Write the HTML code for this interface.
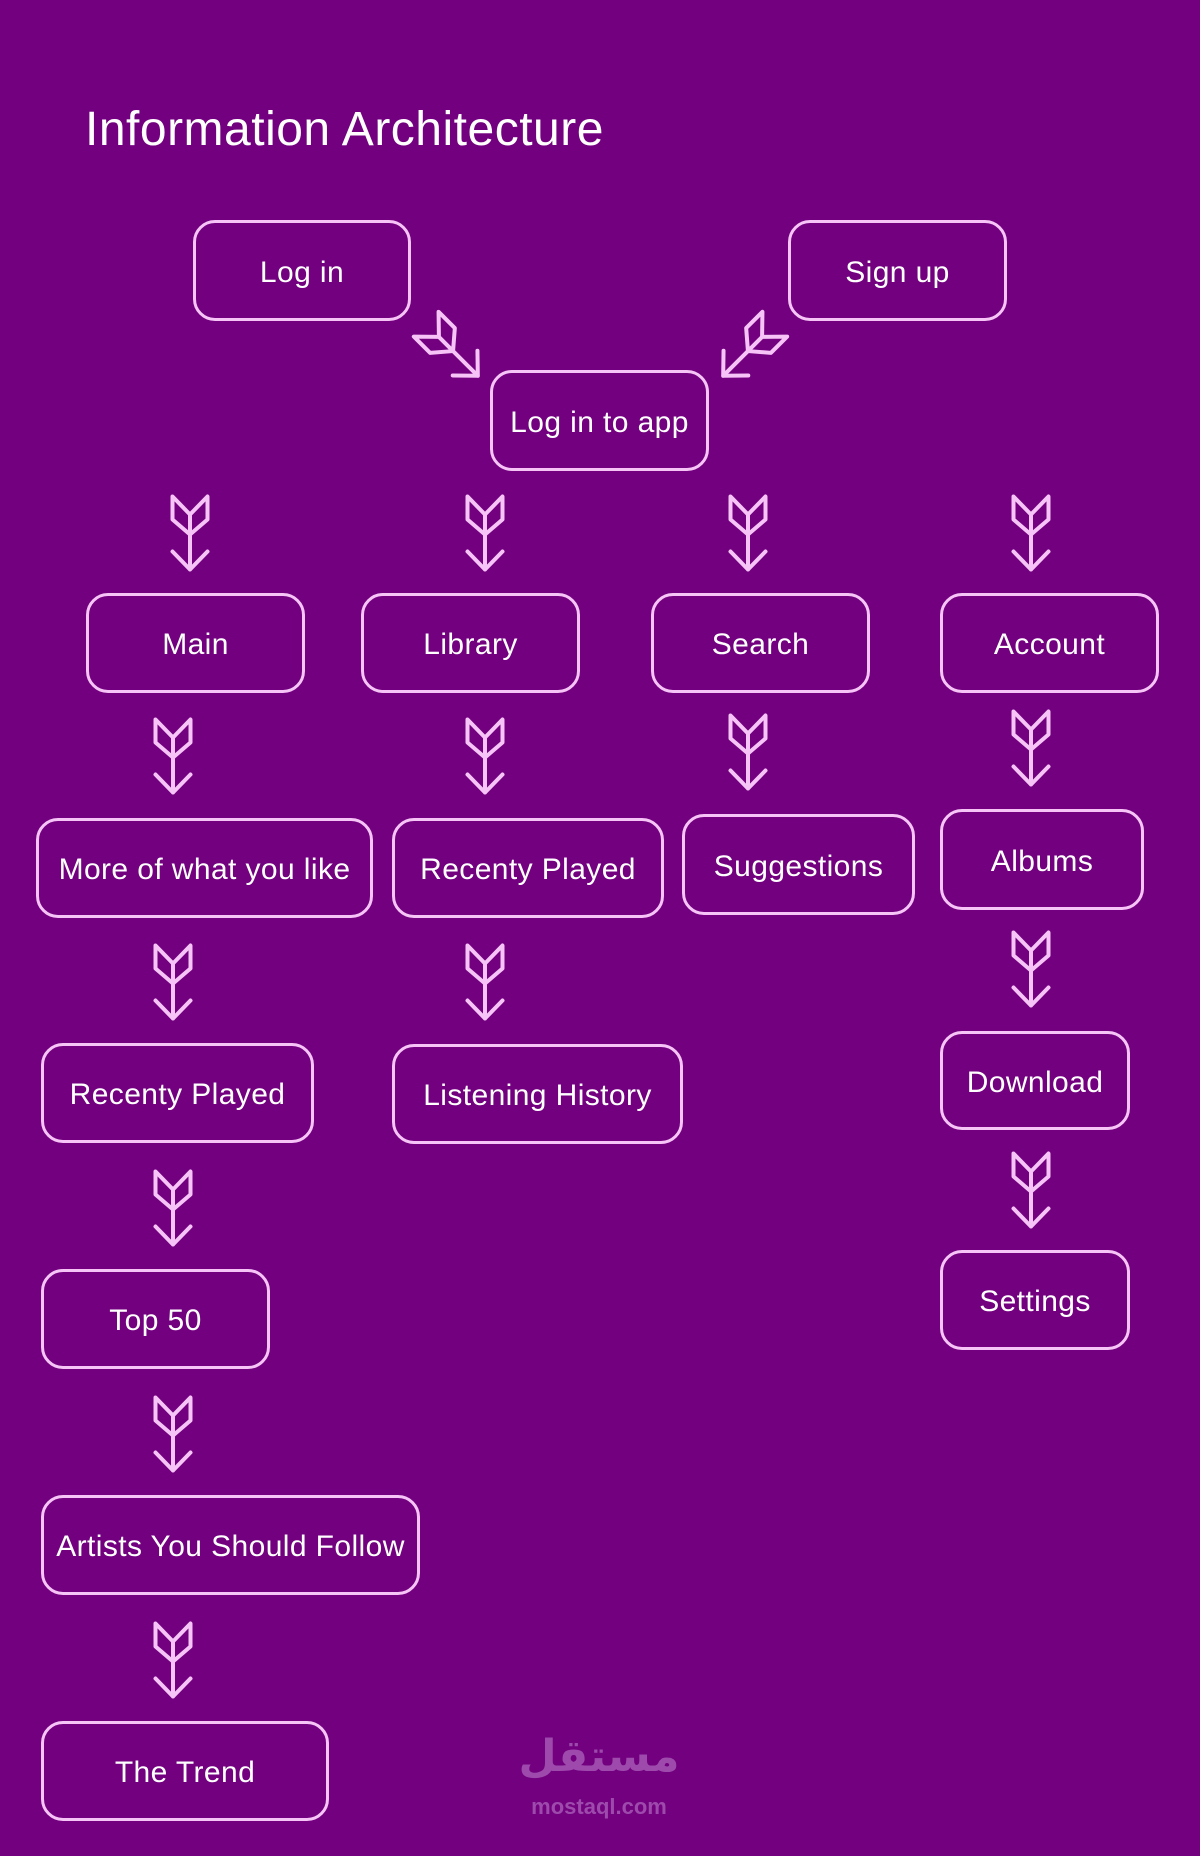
<!DOCTYPE html>
<html><head><meta charset="utf-8"><style>
html,body{margin:0;padding:0}
body{width:1200px;height:1856px;background:#72007f;position:relative;overflow:hidden;font-family:"Liberation Sans",sans-serif}
.t{position:absolute;left:85px;top:102px;color:#fff;font-size:48px;line-height:56px;letter-spacing:0.5px}
.b{position:absolute;box-sizing:border-box;border:3.5px solid #f6c4f6;border-radius:22px;color:#fff;font-size:30px;letter-spacing:0.4px;display:flex;align-items:center;justify-content:center;white-space:nowrap;padding-top:4px}
svg{position:absolute;left:0;top:0}
.wm{position:absolute;left:499px;width:200px;text-align:center;color:#9e4aad;font-weight:bold}
</style></head><body>
<div class="t">Information Architecture</div>
<div class="b" style="left:193px;top:220px;width:218px;height:101px">Log in</div>
<div class="b" style="left:788px;top:220px;width:219px;height:101px">Sign up</div>
<div class="b" style="left:490px;top:370px;width:219px;height:101px">Log in to app</div>
<div class="b" style="left:86px;top:593px;width:219px;height:100px">Main</div>
<div class="b" style="left:361px;top:593px;width:219px;height:100px">Library</div>
<div class="b" style="left:651px;top:593px;width:219px;height:100px">Search</div>
<div class="b" style="left:940px;top:593px;width:219px;height:100px">Account</div>
<div class="b" style="left:36px;top:818px;width:337px;height:100px">More of what you like</div>
<div class="b" style="left:392px;top:818px;width:272px;height:100px">Recenty Played</div>
<div class="b" style="left:682px;top:814px;width:233px;height:101px">Suggestions</div>
<div class="b" style="left:940px;top:809px;width:204px;height:101px">Albums</div>
<div class="b" style="left:41px;top:1043px;width:273px;height:100px">Recenty Played</div>
<div class="b" style="left:392px;top:1044px;width:291px;height:100px">Listening History</div>
<div class="b" style="left:940px;top:1031px;width:190px;height:99px">Download</div>
<div class="b" style="left:41px;top:1269px;width:229px;height:100px">Top 50</div>
<div class="b" style="left:940px;top:1250px;width:190px;height:100px">Settings</div>
<div class="b" style="left:41px;top:1495px;width:379px;height:100px">Artists You Should Follow</div>
<div class="b" style="left:41px;top:1721px;width:288px;height:100px">The Trend</div>
<svg width="1200" height="1856" viewBox="0 0 1200 1856">
<defs>
<g id="a" fill="none" stroke="#f6c4f6" stroke-width="4" stroke-linecap="round" stroke-linejoin="round">
<path d="M-17.5,-36.5 L0,-18.5 L17.5,-36.5 L17.5,-13.5 L0,1.5 L-17.5,-13.5 Z M0,-18.5 L0,36.5 M-17.5,18.5 L0,36.5 L17.5,18.5"/>
</g>
</defs>
<use href="#a" transform="translate(190,533)"/>
<use href="#a" transform="translate(485,533)"/>
<use href="#a" transform="translate(748,533)"/>
<use href="#a" transform="translate(1031,533)"/>
<use href="#a" transform="translate(173,756)"/>
<use href="#a" transform="translate(485,756)"/>
<use href="#a" transform="translate(748,752)"/>
<use href="#a" transform="translate(1031,748)"/>
<use href="#a" transform="translate(173,982)"/>
<use href="#a" transform="translate(485,982)"/>
<use href="#a" transform="translate(1031,969)"/>
<use href="#a" transform="translate(173,1208)"/>
<use href="#a" transform="translate(1031,1190)"/>
<use href="#a" transform="translate(173,1434)"/>
<use href="#a" transform="translate(173,1660)"/>
<use href="#a" transform="translate(452,350) rotate(-45)"/>
<use href="#a" transform="translate(749,350) rotate(45)"/>
</svg>
<div class="wm" style="top:1732px;font-size:44px;line-height:50px;font-family:'DejaVu Sans',sans-serif">مستقل</div>
<div class="wm" style="top:1794px;font-size:22px;line-height:26px">mostaql.com</div>
</body></html>
